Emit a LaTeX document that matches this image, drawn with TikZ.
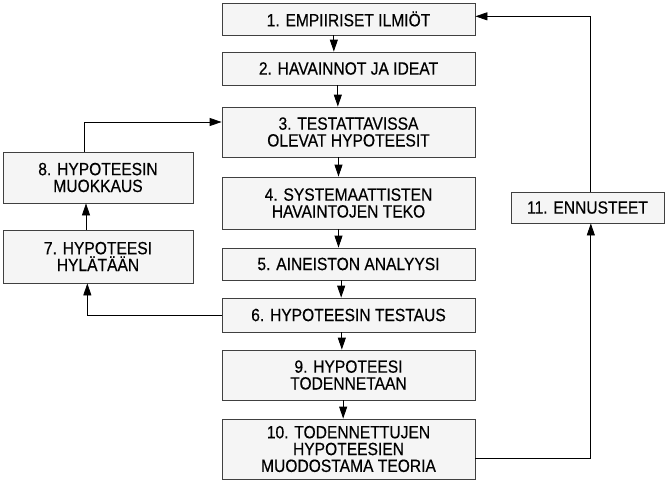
\documentclass[tikz,border=0pt]{standalone}
\usepackage{fontspec}
\setmainfont[FakeStretch=0.88,FakeBold=0.4,AutoFakeBold=0.4]{Liberation Sans}
\usetikzlibrary{arrows.meta}
\tikzset{
  box/.style={draw=black!75, fill=black!4, line width=0.6pt, inner sep=0pt,
    align=center, minimum width=189.75pt, font=\fontsize{13.3}{12.6}\selectfont\bfseries},
  sidebox/.style={box, minimum width=142.5pt},
  arr/.style={-{Triangle[length=9pt,width=6pt]}, line width=0.6pt}
}
\begin{document}
\begin{tikzpicture}[x=0.75pt,y=-0.75pt]
\useasboundingbox (0,0) rectangle (668,500);
\node[box, minimum height=24pt] (01) at (348.5,19) {1. EMPIIRISET ILMIÖT};
\node[box, minimum height=24.75pt] (02) at (348.5,68.5) {2. HAVAINNOT JA IDEAT};
\node[box, minimum height=37.5pt] (03) at (348.5,132) {3. TESTATTAVISSA\\OLEVAT HYPOTEESIT};
\node[box, minimum height=39pt] (04) at (348.5,203) {4. SYSTEMAATTISTEN\\HAVAINTOJEN TEKO};
\node[box, minimum height=24pt] (05) at (348.5,264) {5. AINEISTON ANALYYSI};
\node[box, minimum height=25.5pt] (06) at (348.5,315) {6. HYPOTEESIN TESTAUS};
\node[sidebox, minimum height=39.75pt] (07) at (98,256.5) {7. HYPOTEESI\\HYLÄTÄÄN};
\node[sidebox, minimum height=38.25pt] (08) at (98,177.5) {8. HYPOTEESIN\\MUOKKAUS};
\node[box, minimum height=37.5pt] (09) at (348.5,375) {9. HYPOTEESI\\TODENNETAAN};
\node[box, minimum height=45pt] (10) at (348.5,449) {10. TODENNETTUJEN\\HYPOTEESIEN\\MUODOSTAMA TEORIA};
\node[box, minimum width=114.75pt, minimum height=23.25pt] (11) at (587.5,207.5) {11. ENNUSTEET};
% main column
\draw[arr] ([xshift=-11pt]01.south) -- ([xshift=-11pt]02.north);
\draw[arr] ([xshift=-8pt]02.south) -- ([xshift=-8pt]03.north);
\draw[arr] ([xshift=-7.5pt]03.south) -- ([xshift=-7.5pt]04.north);
\draw[arr] ([xshift=-7.5pt]04.south) -- ([xshift=-7.5pt]05.north);
\draw[arr] ([xshift=-5.5pt]05.south) -- ([xshift=-5.5pt]06.north);
\draw[arr] ([xshift=-5pt]06.south) -- ([xshift=-5pt]09.north);
\draw[arr] ([xshift=-4pt]09.south) -- ([xshift=-4pt]10.north);
% side loops
\draw[arr] (06.west) -| ([xshift=-8pt]07.south);
\draw[arr] ([xshift=-9pt]07.north) -- ([xshift=-9pt]08.south);
\draw[arr] ([xshift=-10pt]08.north) |- ([yshift=7.5pt]03.west);
\draw[arr] ([yshift=-7pt]10.east) -| ([xshift=2.5pt]11.south);
\draw[arr] ([xshift=2.5pt]11.north) |- ([yshift=2pt]01.east);
\end{tikzpicture}
\end{document}
